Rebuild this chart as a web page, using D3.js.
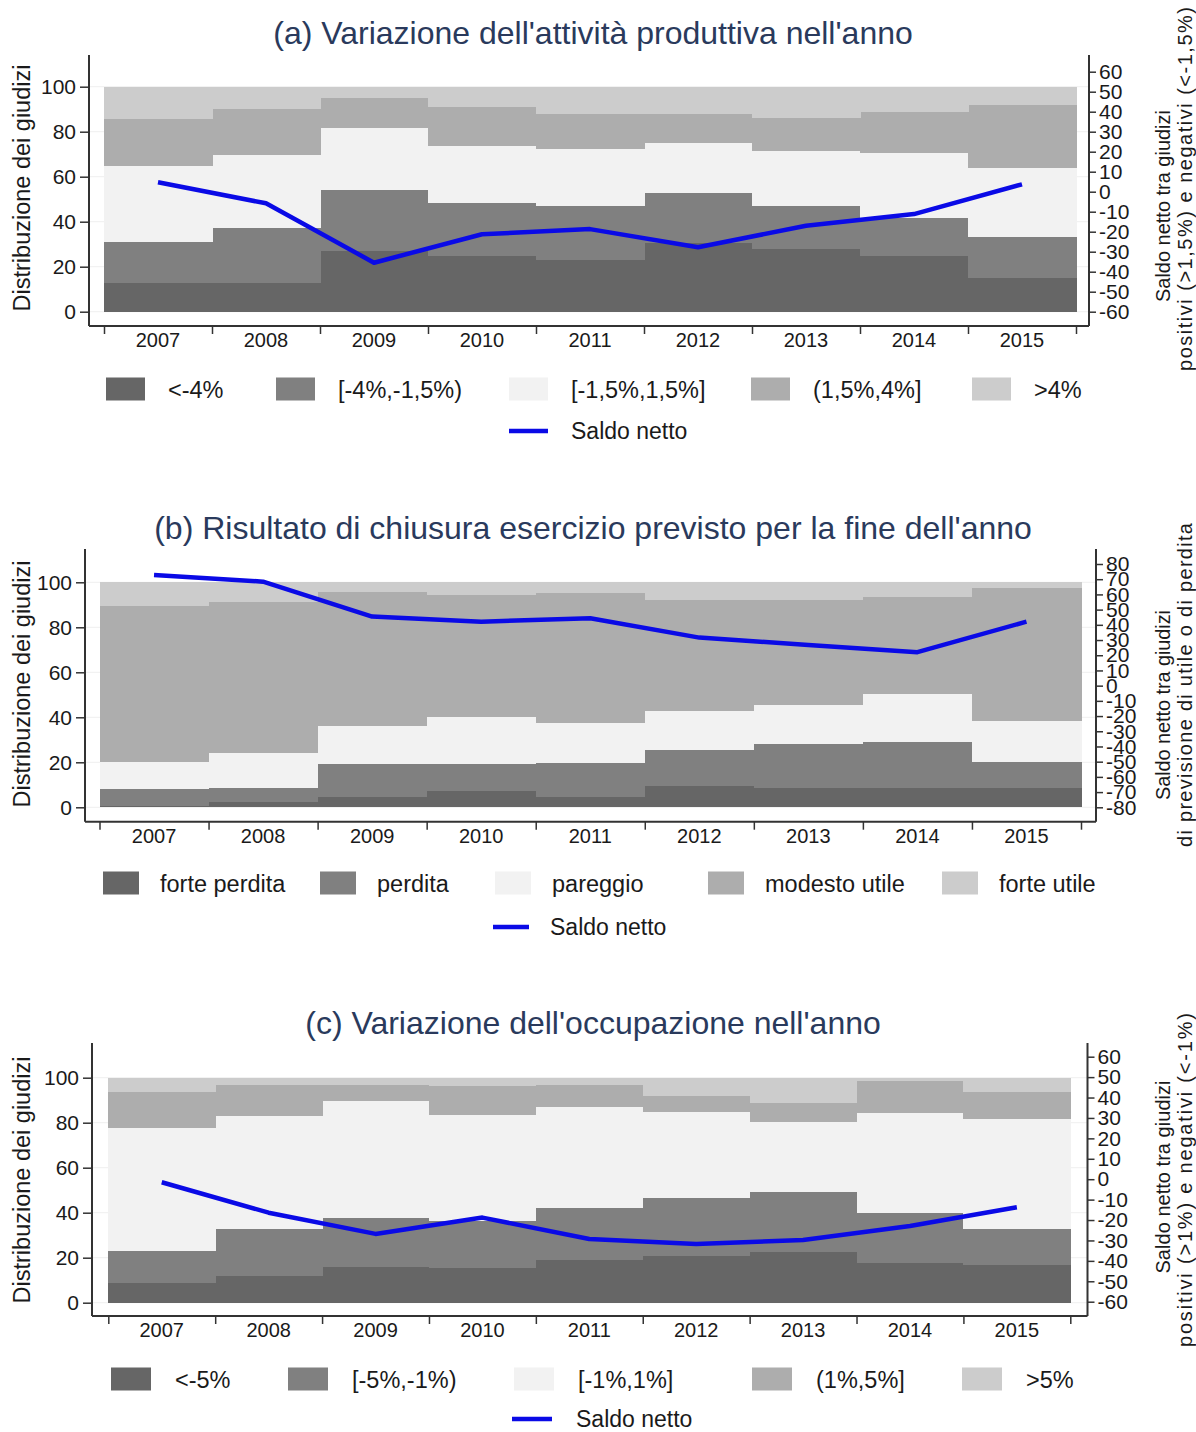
<!DOCTYPE html>
<html>
<head>
<meta charset="utf-8">
<script src="https://cdn.jsdelivr.net/npm/d3@7"></script>
<style>
  html, body { margin: 0; padding: 0; background: #ffffff; }
  svg { display: block; font-family: "Liberation Sans", Arial, Helvetica, sans-serif; }
</style>
</head>
<body>
<svg id="chart" width="1196" height="1432"></svg>
<script>
// ---- Data ---------------------------------------------------------------
const years = [2007, 2008, 2009, 2010, 2011, 2012, 2013, 2014, 2015];

// (a) Variazione dell'attività produttiva: share of firms per class (%)
const prodLabels = ["<-4%", "[-4%,-1,5%)", "[-1,5%,1,5%]", "(1,5%,4%]", ">4%"];
const prodShares = [
  [12.6, 18.2, 33.9, 20.8, 14.5],
  [12.6, 24.7, 32.2, 20.6,  9.9],
  [27.1, 27.1, 27.3, 13.6,  4.9],
  [24.8, 23.7, 25.0, 17.5,  9.0],
  [23.2, 23.8, 25.2, 15.7, 12.1],
  [30.7, 21.9, 22.5, 12.8, 12.1],
  [27.7, 19.4, 24.3, 14.8, 13.8],
  [24.8, 16.7, 28.9, 18.2, 11.4],
  [14.8, 18.5, 30.7, 27.9,  8.1]
];
const prodSaldo = [4.7, -5.8, -35.5, -21.3, -18.7, -27.8, -17.0, -11.2, 3.7];

// (b) Risultato di chiusura esercizio previsto
const resLabels = ["forte perdita", "perdita", "pareggio", "modesto utile", "forte utile"];
const resShares = [
  [0.5,  7.5, 12.0, 69.6, 10.4],
  [2.2,  6.5, 15.3, 67.1,  8.9],
  [4.7, 14.4, 17.0, 59.7,  4.2],
  [7.2, 11.9, 20.9, 54.4,  5.6],
  [4.7, 15.1, 17.8, 57.5,  4.9],
  [9.5, 16.0, 17.4, 49.2,  7.9],
  [8.7, 19.3, 17.5, 46.6,  7.9],
  [8.7, 20.2, 21.5, 43.2,  6.4],
  [8.7, 11.3, 18.4, 59.2,  2.4]
];
const resSaldo = [72.8, 68.4, 45.4, 42.1, 44.3, 31.6, 26.8, 22.0, 42.1];

// (c) Variazione dell'occupazione
const occLabels = ["<-5%", "[-5%,-1%)", "[-1%,1%]", "(1%,5%]", ">5%"];
const occShares = [
  [ 8.9, 14.2, 54.7, 15.7,  6.5],
  [11.9, 20.7, 50.5, 13.7,  3.2],
  [15.7, 21.8, 52.1,  7.2,  3.2],
  [15.3, 21.1, 47.0, 12.9,  3.7],
  [19.0, 23.2, 44.9,  9.7,  3.2],
  [20.8, 25.6, 38.5,  7.1,  8.0],
  [22.4, 26.9, 30.9,  8.7, 11.1],
  [17.5, 22.5, 44.2, 14.3,  1.5],
  [16.8, 15.8, 49.0, 11.9,  6.5]
];
const occSaldo = [-1.5, -16.4, -26.8, -18.8, -29.3, -31.7, -29.8, -22.9, -13.7];

const leftTicks = [0, 20, 40, 60, 80, 100];
const lineLabel = "Saldo netto";
const leftTitle = "Distribuzione dei giudizi";

// ---- Styles -------------------------------------------------------------
const layerColors = ["#666666", "#808080", "#f2f2f2", "#adadad", "#cccccc"];
const lineColor = "#0a0ae6";
const axisColor = "#333333";
const titleColor = "#2a3a5c";
const textColor = "#1a1a1a";

// ---- Panel layout -------------------------------------------------------
const panels = [
  {
    title: "(a) Variazione dell'attività produttiva nell'anno", titleY: 43.5,
    shares: prodShares, saldo: prodSaldo, labels: prodLabels,
    rightTitle: ["Saldo netto tra giudizi", "positivi (>1,5%) e negativi (<-1,5%)"],
    rightTitleY: [206, 189], rightTitleLen: [192, 364],
    top: 55, bottom: 326, y0: 311.7, y100: 86.7,
    left: 89, bandL: 104, bandR: 1076, right: 1089,
    rDomain: [-60, 60], rRange: [311.7, 71.7], rStep: 10,
    leftTitleY: 188,
    legend: { sx: [106, 276, 509, 751, 972], sw: 39, gap: 23, y1: 389, y2: 431, lx: 509 }
  },
  {
    title: "(b) Risultato di chiusura esercizio previsto per la fine dell'anno", titleY: 538.5,
    shares: resShares, saldo: resSaldo, labels: resLabels,
    rightTitle: ["Saldo netto tra giudizi", "di previsione di utile o di perdita"],
    rightTitleY: [705, 685], rightTitleLen: [190, 324],
    top: 549, bottom: 821.7, y0: 807.3, y100: 582.3,
    left: 85, bandL: 99.5, bandR: 1081, right: 1096,
    rDomain: [-80, 80], rRange: [807.3, 564], rStep: 10,
    leftTitleY: 684,
    legend: { sx: [103, 320, 495, 708, 942], sw: 36, gap: 21, y1: 883, y2: 927, lx: 493 }
  },
  {
    title: "(c) Variazione dell'occupazione nell'anno", titleY: 1033.5,
    shares: occShares, saldo: occSaldo, labels: occLabels,
    rightTitle: ["Saldo netto tra giudizi", "positivi (>1%) e negativi (<-1%)"],
    rightTitleY: [1177, 1180], rightTitleLen: [193, 334],
    top: 1043, bottom: 1316, y0: 1302.7, y100: 1077.7,
    left: 92, bandL: 108.3, bandR: 1070.3, right: 1087.5,
    rDomain: [-60, 60], rRange: [1301.7, 1056.7], rStep: 10,
    leftTitleY: 1180,
    legend: { sx: [111, 288, 514, 752, 962], sw: 40, gap: 24, y1: 1379, y2: 1419, lx: 512 }
  }
];

const svg = d3.select("#chart");
svg.append("rect").attr("width", 1196).attr("height", 1432).attr("fill", "#ffffff");

const intFmt = d => String(d);

panels.forEach(p => {
  const g = svg.append("g");

  const x = d3.scaleBand().domain(years).range([p.bandL, p.bandR]).padding(0);
  const yL = d3.scaleLinear().domain([0, 100]).range([p.y0, p.y100]);
  const yR = d3.scaleLinear().domain(p.rDomain).range(p.rRange);

  // faint horizontal grid behind the bands
  g.append("g").selectAll("line").data(leftTicks).join("line")
    .attr("x1", p.left).attr("x2", p.right)
    .attr("y1", d => yL(d)).attr("y2", d => yL(d))
    .attr("stroke", "#efefef").attr("stroke-width", 1);

  // stacked distribution, one column per year
  const rows = years.map((yr, i) => {
    const o = { year: yr };
    p.shares[i].forEach((v, k) => { o["k" + k] = v; });
    return o;
  });
  const keys = p.labels.map((_, k) => "k" + k);
  const series = d3.stack().keys(keys)(rows);
  g.append("g").selectAll("g").data(series).join("g")
    .attr("fill", (s, k) => layerColors[k])
    .selectAll("rect").data(s => s).join("rect")
      .attr("x", d => x(d.data.year))
      .attr("width", x.bandwidth() + 0.5)
      .attr("y", d => yL(d[1]))
      .attr("height", d => yL(d[0]) - yL(d[1]))
      .attr("shape-rendering", "crispEdges");

  // net balance line on the right axis
  const line = d3.line()
    .x((d, i) => x(years[i]) + x.bandwidth() / 2)
    .y(d => yR(d));
  g.append("path").datum(p.saldo)
    .attr("d", line)
    .attr("fill", "none")
    .attr("stroke", lineColor)
    .attr("stroke-width", 4.5)
    .attr("stroke-linejoin", "round")
    .attr("stroke-linecap", "butt");

  // axis lines
  const frame = g.append("g").attr("stroke", axisColor).attr("stroke-width", 2);
  frame.append("line").attr("x1", p.left).attr("x2", p.left).attr("y1", p.top).attr("y2", p.bottom);
  frame.append("line").attr("x1", p.right).attr("x2", p.right).attr("y1", p.top).attr("y2", p.bottom);
  frame.append("line").attr("x1", p.left).attr("x2", p.right).attr("y1", p.bottom).attr("y2", p.bottom);

  // left axis
  const la = g.append("g").attr("transform", `translate(${p.left},0)`)
    .call(d3.axisLeft(yL).tickValues(leftTicks).tickSize(9).tickPadding(4).tickFormat(intFmt));
  la.select(".domain").remove();
  la.selectAll("line").attr("stroke", axisColor).attr("stroke-width", 1.5);
  la.selectAll("text").attr("font-size", 21).attr("fill", textColor);

  // right axis
  const ra = g.append("g").attr("transform", `translate(${p.right},0)`)
    .call(d3.axisRight(yR).tickValues(d3.range(p.rDomain[0], p.rDomain[1] + 1, p.rStep))
      .tickSize(7).tickPadding(3).tickFormat(intFmt));
  ra.select(".domain").remove();
  ra.selectAll("line").attr("stroke", axisColor).attr("stroke-width", 1.5);
  ra.selectAll("text").attr("font-size", 21).attr("fill", textColor);

  // bottom axis: tick marks at column boundaries, labels at column centres
  const edge = d3.scaleLinear().domain([0, years.length]).range([p.bandL, p.bandR]);
  const bt = g.append("g").attr("transform", `translate(0,${p.bottom})`)
    .call(d3.axisBottom(edge).tickValues(d3.range(years.length + 1)).tickFormat("").tickSize(8));
  bt.select(".domain").remove();
  bt.selectAll("line").attr("stroke", axisColor).attr("stroke-width", 1.5);
  const bl = g.append("g").attr("transform", `translate(0,${p.bottom})`)
    .call(d3.axisBottom(x).tickSize(0).tickPadding(7).tickFormat(intFmt));
  bl.select(".domain").remove();
  bl.selectAll("text").attr("font-size", 20).attr("fill", textColor);

  // titles
  g.append("text").attr("x", 593).attr("y", p.titleY)
    .attr("text-anchor", "middle").attr("font-size", 32).attr("fill", titleColor)
    .text(p.title);
  g.append("text")
    .attr("transform", `translate(30,${p.leftTitleY}) rotate(-90)`)
    .attr("text-anchor", "middle").attr("font-size", 23.5).attr("fill", textColor)
    .text(leftTitle);
  p.rightTitle.forEach((t, k) => {
    g.append("text")
      .attr("transform", `translate(${1170 + k * 22},${p.rightTitleY[k]}) rotate(-90)`)
      .attr("text-anchor", "middle").attr("font-size", 20).attr("fill", textColor)
      .attr("textLength", p.rightTitleLen[k]).attr("lengthAdjust", "spacing")
      .text(t);
  });

  // legend
  const L = p.legend;
  const lg = g.append("g");
  p.labels.forEach((lab, k) => {
    lg.append("rect").attr("x", L.sx[k]).attr("y", L.y1 - 11.5)
      .attr("width", L.sw).attr("height", 23).attr("fill", layerColors[k]);
    lg.append("text").attr("x", L.sx[k] + L.sw + L.gap).attr("y", L.y1 + 8.5)
      .attr("font-size", 23.5).attr("fill", textColor).text(lab);
  });
  lg.append("line").attr("x1", L.lx).attr("x2", L.lx + L.sw)
    .attr("y1", L.y2).attr("y2", L.y2)
    .attr("stroke", lineColor).attr("stroke-width", 4.5);
  lg.append("text").attr("x", L.lx + L.sw + L.gap).attr("y", L.y2 + 8)
    .attr("font-size", 23).attr("fill", textColor).text(lineLabel);
});
</script>
</body>
</html>
